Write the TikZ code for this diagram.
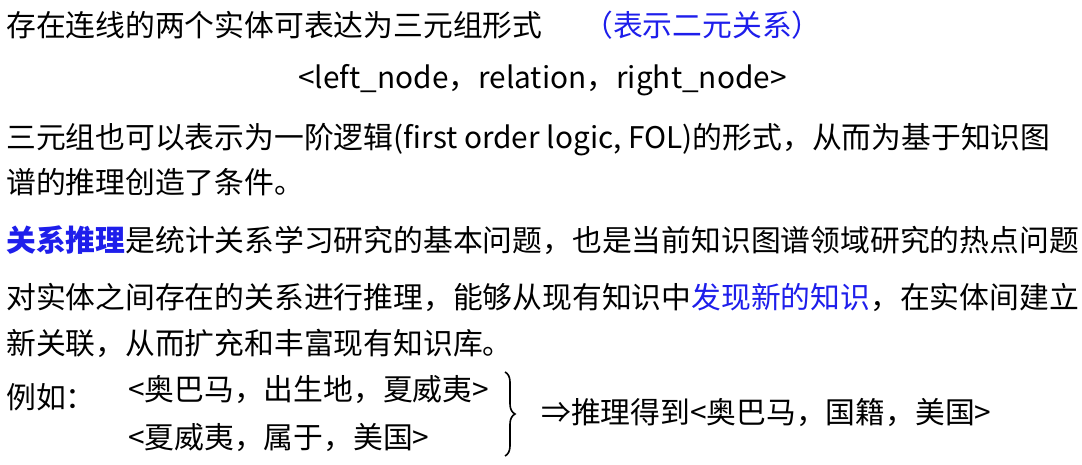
\documentclass[tikz,border=0pt]{standalone}
\usepackage{fontspec}
\setmainfont{Noto Sans CJK SC}
\usetikzlibrary{decorations.pathreplacing}
\definecolor{hl}{RGB}{30,30,235}
\begin{document}
\begin{tikzpicture}[x=1pt,y=-1pt,
  txt/.style={anchor=west,inner sep=0pt,font=\fontsize{29.8}{34}\selectfont}]
\useasboundingbox (0,0) rectangle (1082,465);
\node[txt] (l1) at (6,25) {存在连线的两个实体可表达为三元组形式};
\node[txt,text=hl] (l1b) at (583,25) {（表示二元关系）};
\node[txt] (l2) at (298,80) {<left\_node，relation，right\_node>};
\node[txt] (l3) at (6,140) {三元组也可以表示为一阶逻辑(first order logic, FOL)的形式，从而为基于知识图};
\node[txt] (l4) at (6,182) {谱的推理创造了条件。};
\node[txt] (l5) at (6,240) {\textcolor{hl}{\bfseries 关系推理}是统计关系学习研究的基本问题，也是当前知识图谱领域研究的热点问题};
\node[txt] (l6) at (6,297) {对实体之间存在的关系进行推理，能够从现有知识中\textcolor{hl}{发现新的知识}，在实体间建立};
\node[txt] (l7) at (6,343) {新关联，从而扩充和丰富现有知识库。};
\node[txt] (l8a) at (6,397) {例如：};
\node[txt] (l8) at (128,390) {<奥巴马，出生地，夏威夷>};
\node[txt] (l9) at (128,438) {<夏威夷，属于，美国>};
\draw[line width=1.6pt,decorate,decoration={brace,amplitude=10pt}] (505,372) -- (505,456);
\node[txt] (r) at (541,413) {⇒推理得到<奥巴马，国籍，美国>};
\end{tikzpicture}
\end{document}
